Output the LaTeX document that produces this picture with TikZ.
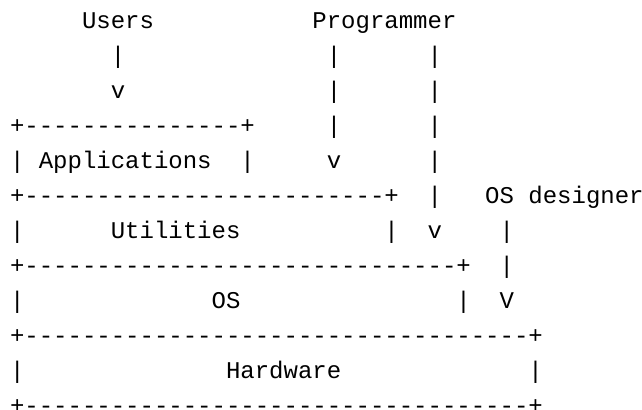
\documentclass[tikz,border=0pt]{standalone}
\usepackage{fontspec}
\newfontfamily\asciimono[Ligatures=TeXOff]{Liberation Mono}
\newcommand\fived{-----}
\newcommand\tk[4]{\node[tok] (#1) at ({10+14.4*(#2)},{28.3+35*(#3)}) {#4};}
\begin{document}
\begin{tikzpicture}[x=0.75pt,y=-0.75pt,
  tok/.style={anchor=base west, inner sep=0pt, outer sep=0pt,
    font=\asciimono\fontsize{18pt}{20pt}\selectfont, text=black}]
\fill[white] (0,0) rectangle (642,410);
\useasboundingbox (0,0) rectangle (642,410);
% row 0
\tk{users}{5}{0}{Users}
\tk{prog}{21}{0}{Programmer}
% row 1
\tk{ua}{7}{1}{|}
\tk{pa1}{22}{1}{|}
\tk{pb1}{29}{1}{|}
% row 2
\tk{uv}{7}{2}{v}
\tk{pa2}{22}{2}{|}
\tk{pb2}{29}{2}{|}
% row 3
\tk{apptop}{0}{3}{+\fived\fived\fived+}
\tk{pa3}{22}{3}{|}
\tk{pb3}{29}{3}{|}
% row 4
\tk{appl}{0}{4}{|}
\tk{app}{2}{4}{Applications}
\tk{appr}{16}{4}{|}
\tk{pav}{22}{4}{v}
\tk{pb4}{29}{4}{|}
% row 5
\tk{utiltop}{0}{5}{+\fived\fived\fived\fived\fived+}
\tk{pb5}{29}{5}{|}
\tk{osd}{33}{5}{OS designer}
% row 6
\tk{utill}{0}{6}{|}
\tk{util}{7}{6}{Utilities}
\tk{utilr}{26}{6}{|}
\tk{pbv}{29}{6}{v}
\tk{d6}{34}{6}{|}
% row 7
\tk{ostop}{0}{7}{+\fived\fived\fived\fived\fived\fived+}
\tk{d7}{34}{7}{|}
% row 8
\tk{osl}{0}{8}{|}
\tk{os}{14}{8}{OS}
\tk{osr}{31}{8}{|}
\tk{dv}{34}{8}{V}
% row 9
\tk{hwtop}{0}{9}{+\fived\fived\fived\fived\fived\fived\fived+}
% row 10
\tk{hwl}{0}{10}{|}
\tk{hw}{15}{10}{Hardware}
\tk{hwr}{36}{10}{|}
% row 11
\tk{hwbot}{0}{11}{+\fived\fived\fived\fived\fived\fived\fived+}
\end{tikzpicture}
\end{document}
